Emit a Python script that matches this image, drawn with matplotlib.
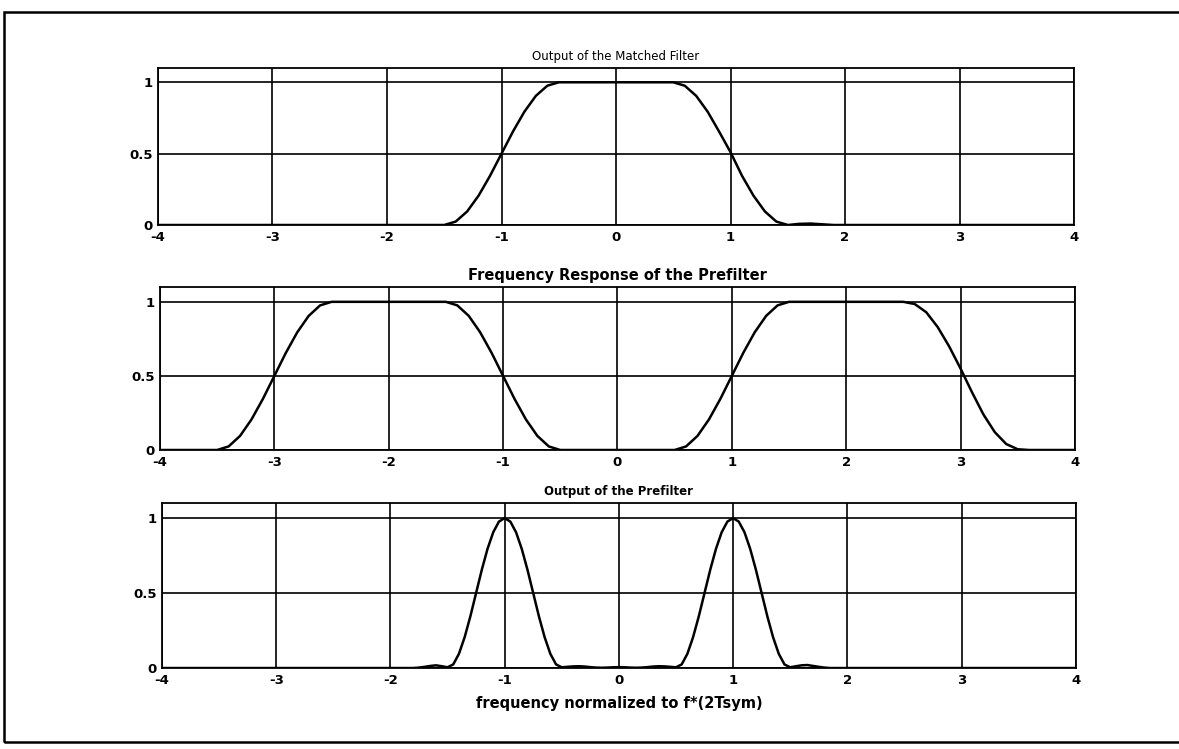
import numpy as np
import matplotlib
matplotlib.use("Agg")
import matplotlib.pyplot as plt
from matplotlib.patches import Rectangle

# frequency grids (normalized to 1/(2Tsym))
freq = np.arange(-40, 41) / 10.0
freq_fine = np.arange(-80, 81) / 20.0

# output of the matched filter, sampled every 0.1
matched_out = (
    [0.0] * 25
    + [0.0, 0.024, 0.095, 0.206, 0.345, 0.5, 0.655, 0.794, 0.905, 0.976]
    + [1.0] * 11
    + [0.976, 0.905, 0.794, 0.655, 0.51, 0.345, 0.206, 0.095, 0.024, 0.0]
    + [0.008, 0.01, 0.005]
    + [0.0] * 22
)

# prefilter magnitude response, sampled every 0.1
prefilter_resp = (
    [0.0] * 6
    + [0.024, 0.095, 0.206, 0.345, 0.5, 0.655, 0.794, 0.905, 0.976]
    + [1.0] * 11
    + [0.976, 0.905, 0.794, 0.655, 0.5, 0.345, 0.206, 0.095, 0.024]
    + [0.0] * 11
    + [0.024, 0.095, 0.206, 0.345, 0.5, 0.655, 0.794, 0.905, 0.976]
    + [1.0] * 11
    + [0.985, 0.93, 0.83, 0.70, 0.55, 0.39, 0.24, 0.12, 0.04]
    + [0.005] + [0.0] * 5
)

# output of the prefilter, sampled every 0.05
peak = [0.024, 0.095, 0.206, 0.345, 0.5, 0.655, 0.794, 0.905, 0.976, 1.0,
        0.976, 0.905, 0.794, 0.655, 0.5, 0.345, 0.206, 0.095, 0.024]
prefilter_out = (
    [0.0] * 45
    + [0.003, 0.008, 0.014, 0.018, 0.012]
    + [0.005]
    + peak
    + [0.005]
    + [0.008, 0.011, 0.012, 0.010, 0.006, 0.003, 0.002, 0.003, 0.005, 0.006,
       0.005, 0.003, 0.002, 0.003, 0.006, 0.010, 0.012, 0.011, 0.008]
    + [0.005]
    + peak
    + [0.005]
    + [0.012, 0.018, 0.02, 0.014, 0.008, 0.003]
    + [0.0] * 44
)

titles = ["Output of the Matched Filter",
          "Frequency Response of the Prefilter",
          "Output of the Prefilter"]
# each title was printed at its own size/weight
title_styles = [(8.5, "normal", 6), (10.5, "bold", 5), (8.5, "bold", 6)]
xticks = [-4, -3, -2, -1, 0, 1, 2, 3, 4]
yticks = [0, 0.5, 1]
ytick_labels = ["0", "0.5", "1"]

plt.rcParams['font.family'] = ['DejaVu Sans']
plt.rcParams['font.weight'] = 'bold'

fig = plt.figure(figsize=(11.79, 7.49), dpi=100)
fig.patch.set_facecolor("white")

# page frame
fig.patches.append(Rectangle((0.0034, 0.0093), 1.0, 0.9747, transform=fig.transFigure,
                             fill=False, edgecolor="black", linewidth=1.8))

positions = [
    [0.134, 0.6996, 0.777, 0.2096],
    [0.1357, 0.3992, 0.776, 0.2176],
    [0.1374, 0.1081, 0.775, 0.2203],
]
series = [(freq, matched_out), (freq, prefilter_resp), (freq_fine, prefilter_out)]

for pos, (x, y), title, (tsize, tweight, tpad) in zip(positions, series, titles, title_styles):
    ax = fig.add_axes(pos)
    ax.plot(x, y, color="black", linewidth=1.8)
    ax.set_xlim(-4, 4)
    ax.set_ylim(0, 1.1)
    ax.set_xticks(xticks)
    ax.set_xticklabels([str(t) for t in xticks])
    ax.set_yticks(yticks)
    ax.set_yticklabels(ytick_labels)
    ax.grid(True, color="black", linewidth=1.2, linestyle="-")
    ax.tick_params(length=0, labelsize=9.5, pad=4)
    for s in ax.spines.values():
        s.set_linewidth(1.3)
    ax.set_title(title, fontsize=tsize, fontweight=tweight, pad=tpad)

ax.set_xlabel("frequency normalized to f*(2Tsym)", fontsize=10.5, fontweight="bold", labelpad=7)

fig.savefig("out.png", dpi=100)
